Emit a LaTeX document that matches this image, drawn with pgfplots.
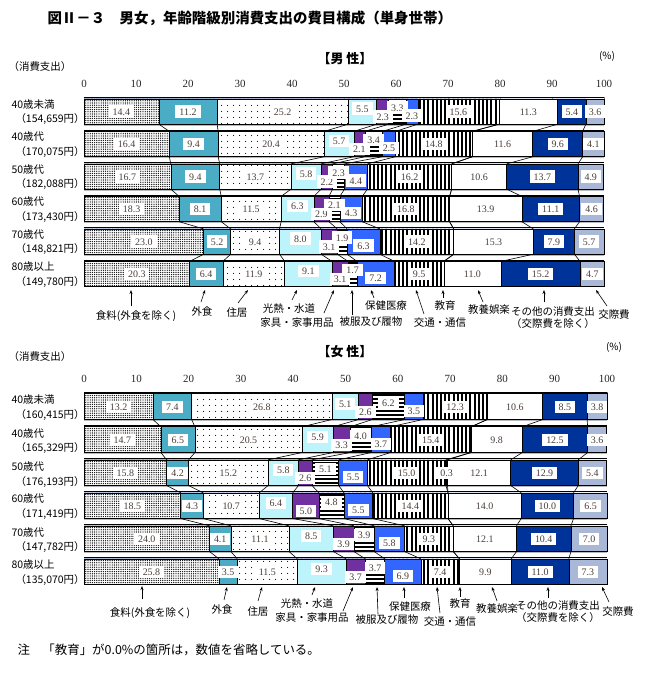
\documentclass[border=0pt]{standalone}
\usepackage{fontspec}
\setmainfont{Liberation Serif}
\newfontfamily\jp{Noto Sans CJK JP}
\usepackage{pgfplots}
\usepackage{pgfplotstable}
\pgfplotsset{compat=1.18}
\usetikzlibrary{patterns.meta,arrows.meta}

\definecolor{gaishoku}{HTML}{4BACC6}
\definecolor{kounetsu}{HTML}{BDF3FA}
\definecolor{kagu}{HTML}{7030A0}
\definecolor{hoken}{HTML}{3366FF}
\definecolor{sonota}{HTML}{003399}
\definecolor{kousai}{HTML}{A9B8D6}
\definecolor{numcol}{HTML}{4A3F3A}

% row: 5 = 40歳未満 ... 0 = 80歳以上
% fo 食料 ea 外食 ho 住居 ut 光熱水道 fu 家具 cl 被服 he 保健医療
% tr 交通通信 ed 教育 cu 教養娯楽 ot その他 so 交際費
\pgfplotstableread{
row fo   ea   ho   ut  fu  cl  he  tr   ed  cu   ot   so
5   14.4 11.2 25.2 5.5 2.3 3.3 2.3 15.6 0.0 11.3 5.4  3.6
4   16.4 9.4  20.4 5.7 2.1 3.4 2.5 14.8 0.0 11.6 9.6  4.1
3   16.7 9.4  13.7 5.8 2.2 2.3 4.4 16.2 0.0 10.6 13.7 4.9
2   18.3 8.1  11.5 6.3 2.9 2.1 4.3 16.8 0.0 13.9 11.1 4.6
1   23.0 5.2  9.4  8.0 3.1 1.9 6.3 14.2 0.0 15.3 7.9  5.7
0   20.3 6.4  11.9 9.1 3.1 1.7 7.2 9.5  0.0 11.0 15.2 4.7
}\male

\pgfplotstableread{
row fo   ea  ho   ut  fu  cl  he  tr   ed  cu   ot   so
5   13.2 7.4 26.8 5.1 2.6 6.2 3.5 12.3 0.0 10.6 8.5  3.8
4   14.7 6.5 20.5 5.9 3.3 4.0 3.7 15.4 0.0 9.8  12.5 3.6
3   15.8 4.2 15.2 5.8 2.6 5.1 5.5 15.0 0.3 12.1 12.9 5.4
2   18.5 4.3 10.7 6.4 5.0 4.8 5.5 14.4 0.0 14.0 10.0 6.5
1   24.0 4.1 11.1 8.5 3.9 3.9 5.8 9.3  0.0 12.1 10.4 7.0
0   25.8 3.5 11.5 9.3 3.7 3.7 6.9 7.4  0.0 9.9  11.0 7.3
}\female

% next row's boundary, for the lines between the bars
\newcommand\nextcol[2]{%
  \pgfplotstablecreatecol[create col/assign/.code={%
    \ifnum\pgfplotstablerow<5
      \pgfmathparse{\nextrow{c#2}}%
      \pgfkeyslet{/pgfplots/table/create col/next content}\pgfmathresult
    \else
      \pgfkeyssetvalue{/pgfplots/table/create col/next content}{0}%
    \fi}]{n#2}{#1}}

\newcommand\cumcols[1]{%
  \pgfplotstablecreatecol[create col/expr={\thisrow{fo}}]{c1}{#1}%
  \pgfplotstablecreatecol[create col/expr={\thisrow{c1}+\thisrow{ea}}]{c2}{#1}%
  \pgfplotstablecreatecol[create col/expr={\thisrow{c2}+\thisrow{ho}}]{c3}{#1}%
  \pgfplotstablecreatecol[create col/expr={\thisrow{c3}+\thisrow{ut}}]{c4}{#1}%
  \pgfplotstablecreatecol[create col/expr={\thisrow{c4}+\thisrow{fu}}]{c5}{#1}%
  \pgfplotstablecreatecol[create col/expr={\thisrow{c5}+\thisrow{cl}}]{c6}{#1}%
  \pgfplotstablecreatecol[create col/expr={\thisrow{c6}+\thisrow{he}}]{c7}{#1}%
  \pgfplotstablecreatecol[create col/expr={\thisrow{c7}+\thisrow{tr}}]{c8}{#1}%
  \pgfplotstablecreatecol[create col/expr={\thisrow{c8}+\thisrow{ed}}]{c9}{#1}%
  \pgfplotstablecreatecol[create col/expr={\thisrow{c9}+\thisrow{cu}}]{c10}{#1}%
  \pgfplotstablecreatecol[create col/expr={\thisrow{c10}+\thisrow{ot}}]{c11}{#1}%
  \pgfplotstablecreatecol[create col/expr={\thisrow{c11}+\thisrow{so}}]{c12}{#1}%
  \nextcol{#1}{1}\nextcol{#1}{2}\nextcol{#1}{3}\nextcol{#1}{4}%
  \nextcol{#1}{5}\nextcol{#1}{6}\nextcol{#1}{7}\nextcol{#1}{8}%
  \nextcol{#1}{9}\nextcol{#1}{10}\nextcol{#1}{11}%
}
\cumcols{\male}
\cumcols{\female}

\pgfplotsset{
  s1/.style={fill=white, postaction={pattern={Dots[distance=2.2bp,radius=0.68bp]}}},
  s2/.style={fill=gaishoku},
  s3/.style={fill=white, postaction={pattern={Dots[distance=6bp,radius=0.65bp]}}},
  s4/.style={fill=kounetsu},
  s5/.style={fill=kagu},
  s6/.style={fill=white, postaction={pattern={Lines[angle=0,distance=4bp,line width=1.6bp]}}},
  s7/.style={fill=hoken},
  s8/.style={fill=white, postaction={pattern={Lines[angle=90,distance=4.2bp,line width=1.9bp]}}},
  s9/.style={fill=white, postaction={pattern={Lines[angle=0,distance=3bp,line width=1bp]}}},
  s10/.style={fill=white},
  s11/.style={fill=sonota},
  s12/.style={fill=kousai},
  panel/.style={
    scale only axis, xmin=0, xmax=100, ymin=-0.5, ymax=5.45,
    axis x line*=top, axis y line=none,
    xtick={0,10,...,100}, ytick=\empty,
    tick align=inside, major tick length=3bp,
    axis line style={line width=0.6bp},
    xticklabel style={font=\fontsize{11}{12}\selectfont, text=black!85, yshift=6bp},
    /pgf/number format/assume math mode=true,
    clip=false, anchor=north west,
  },
}

\newcommand\lab[5][]{%
  \addplot[draw=none, mark=none, #1, point meta=explicit symbolic,
    nodes near coords, nodes near coords align=center,
    every node near coord/.append style={fill=white, inner xsep=4bp, inner ysep=2.6bp,
      text height=7bp, text depth=0pt, text=numcol,
      font=\fontsize{10}{10}\selectfont, #5}]
    table[x expr={#3+\thisrow{#4}/2}, y=row, meta=#4]{#2};}

\newcommand\panelplots[1]{%
  \pgfplotsinvokeforeach{1,...,5}{%
    \draw[gray!55, line width=0.5bp] (axis cs:0,##1-0.42) -- (axis cs:100,##1-0.42);
    \draw[black, line width=0.5bp] (axis cs:0,##1-0.565) -- (axis cs:100,##1-0.565);
  }
  \pgfplotsinvokeforeach{12,11,...,1}{%
    \addplot[xbar, bar shift=0pt, bar width=0.78, draw=black, line width=0.6bp, s##1]
      table[x=c##1, y=row]{#1};
  }
  \pgfplotsinvokeforeach{1,...,11}{%
    \addplot[quiver={u=\thisrow{n##1}-\thisrow{c##1}, v=-0.22}, draw=black,
      line width=0.6bp, skip coords between index={5}{6}]
      table[x=c##1, y expr=\thisrow{row}-0.39]{#1};
  }
  \lab{#1}{0}{fo}{}
  \lab{#1}{\thisrow{c1}}{ea}{}
  \lab{#1}{\thisrow{c2}}{ho}{}
  \lab{#1}{\thisrow{c3}}{ut}{yshift=3bp}
  \lab{#1}{\thisrow{c4}}{fu}{yshift=-5bp}
  \lab{#1}{\thisrow{c5}}{cl}{yshift=4bp}
  \lab{#1}{\thisrow{c6}}{he}{yshift=-4bp}
  \lab{#1}{\thisrow{c7}}{tr}{}
  \lab[restrict expr to domain={\thisrow{ed}}{0.05:100}]{#1}{\thisrow{c8}}{ed}{}
  \lab{#1}{\thisrow{c9}}{cu}{}
  \lab{#1}{\thisrow{c10}}{ot}{}
  \lab{#1}{\thisrow{c11}}{so}{}
}

\tikzset{jl/.style={font=\jp\fontsize{10.5}{12}\selectfont},
  ar/.style={-{Stealth[length=4bp,width=3bp]}, line width=0.6bp}}

\begin{document}
\begin{tikzpicture}
\path[use as bounding box] (0,0) rectangle (663bp,-675bp);

\begin{axis}[panel, width=520bp, height=193.4bp, at={(84bp,-96.9bp)}]
\panelplots{\male}
\end{axis}

\begin{axis}[panel, width=523bp, height=196.4bp, at={(84bp,-391.8bp)}]
\panelplots{\female}
\end{axis}

\begin{scope}[x=1bp, y=-1bp]
\node[anchor=west, font=\jp\bfseries\fontsize{14.5}{16}\selectfont] at (44,18)
  {図Ⅱ－３　男女，年齢階級別消費支出の費目構成（単身世帯）};

% male panel
\node[font=\jp\bfseries\fontsize{13}{15}\selectfont] at (345,59) {【男 性】};
\node[font=\jp\fontsize{10}{12}\selectfont] at (607,56) {(\%)};
\node[jl] at (40,67) {（消費支出）};
\foreach \y/\a/\m in {111.5/40歳未満/{154,659}, 144/40歳代/{170,075}, 176.5/50歳代/{182,088},
    209/60歳代/{173,430}, 241.5/70歳代/{148,821}, 274/80歳以上/{149,780}}{
  \node[anchor=west, jl] at (8,\y-7) {\a};
  \node[anchor=west, jl] at (12,\y+8) {（\m 円）};
}
\node[jl] at (136,316) {食料(外食を除く)};
\draw[ar] (131,306) -- (131,290);
\node[jl] at (202,312) {外食};
\draw[ar] (201,302) -- (205,290);
\node[jl] at (237,313) {住居};
\draw[ar] (238,303) -- (248,290);
\node[jl] at (289,309) {光熱・水道};
\draw[ar] (292,300) -- (297,290);
\node[jl] at (297,323) {家具・家事用品};
\draw[ar] (324,313) -- (334,290);
\node[jl] at (371,322) {被服及び履物};
\draw[ar] (352,315) -- (352,290);
\node[jl] at (386,306) {保健医療};
\draw[ar] (374,298) -- (371,290);
\node[jl] at (440,323) {交通・通信};
\draw[ar] (424,314) -- (416,290);
\node[jl] at (445,306) {教育};
\draw[ar] (443,298) -- (443,290);
\node[jl] at (489,310) {教養娯楽};
\draw[ar] (483,302) -- (478,290);
\node[jl, align=center] at (553,318) {その他の消費支出\\（交際費を除く）};
\draw[ar] (544,302) -- (544,290);
\node[jl] at (614,315) {交際費};
\draw[ar] (607,306) -- (596,290);

% female panel
\node[font=\jp\bfseries\fontsize{13}{15}\selectfont] at (345,352) {【女 性】};
\node[font=\jp\fontsize{10}{12}\selectfont] at (614,347) {(\%)};
\node[jl] at (40,357) {（消費支出）};
\foreach \y/\a/\m in {406.7/40歳未満/{160,415}, 440.3/40歳代/{165,329}, 474/50歳代/{176,193},
    506/60歳代/{171,419}, 539.5/70歳代/{147,782}, 571.7/80歳以上/{135,070}}{
  \node[anchor=west, jl] at (8,\y-7) {\a};
  \node[anchor=west, jl] at (12,\y+8) {（\m 円）};
}
\node[jl] at (150,613) {食料(外食を除く)};
\draw[ar] (142,599) -- (142,586);
\node[jl] at (222,610) {外食};
\draw[ar] (224,600) -- (227,587);
\node[jl] at (258,612) {住居};
\draw[ar] (258,601) -- (262,587);
\node[jl] at (307,604) {光熱・水道};
\draw[ar] (312,595) -- (315,587);
\node[jl] at (312,618) {家具・家事用品};
\draw[ar] (343,611) -- (353,587);
\node[jl] at (387,620) {被服及び履物};
\draw[ar] (378,614) -- (377,587);
\node[jl] at (410,607) {保健医療};
\draw[ar] (404,598) -- (404,587);
\node[jl] at (450,622) {交通・通信};
\draw[ar] (440,613) -- (437,587);
\node[jl] at (460,604) {教育};
\draw[ar] (460,597) -- (460,587);
\node[jl] at (497,609) {教養娯楽};
\draw[ar] (497,601) -- (492,587);
\node[jl, align=center] at (558,612) {その他の消費支出\\（交際費を除く）};
\draw[ar] (548,598) -- (548,587);
\node[jl] at (618,612) {交際費};
\draw[ar] (609,602) -- (602,587);

\node[anchor=west, font=\jp\fontsize{12.5}{14}\selectfont] at (14,650)
  {注　「教育」が0.0\%の箇所は，数値を省略している。};
\end{scope}
\end{tikzpicture}
\end{document}
